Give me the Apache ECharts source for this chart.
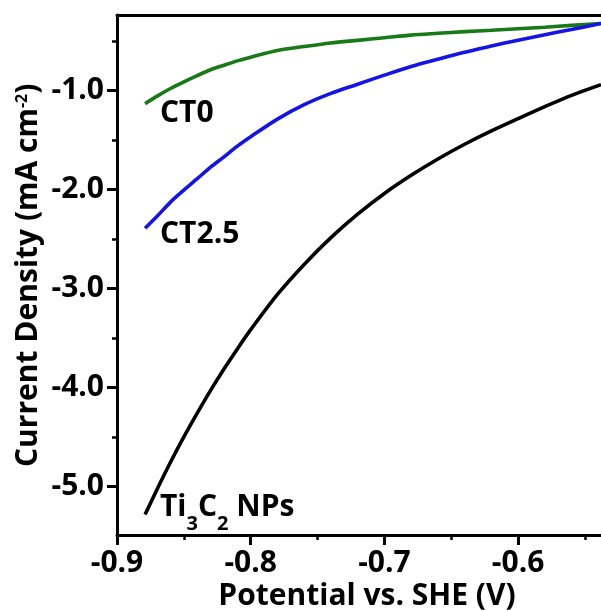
<!DOCTYPE html>
<html><head><meta charset="utf-8">
<script src="https://cdn.jsdelivr.net/npm/echarts@6/dist/echarts.min.js"></script>
<style>html,body{margin:0;padding:0;background:#fff}#c{width:601px;height:611px}</style>
</head><body><div id="c"></div>
<script>
// Potential vs. SHE (V)
const potentials = [-0.879, -0.87, -0.86, -0.85, -0.84, -0.83, -0.82, -0.81, -0.80, -0.78, -0.76, -0.74, -0.72, -0.70, -0.68, -0.66, -0.64, -0.62, -0.60, -0.58, -0.56, -0.538];
// Current density (mA cm^-2)
const ct0 = [-1.135, -1.059, -0.982, -0.915, -0.852, -0.793, -0.747, -0.703, -0.666, -0.599, -0.558, -0.522, -0.496, -0.470, -0.443, -0.425, -0.408, -0.394, -0.379, -0.363, -0.345, -0.326];
const ct25 = [-2.393, -2.272, -2.129, -2.008, -1.893, -1.776, -1.672, -1.564, -1.469, -1.291, -1.145, -1.031, -0.939, -0.847, -0.759, -0.686, -0.616, -0.554, -0.494, -0.439, -0.386, -0.326];
const ti3c2 = [-5.283, -5.028, -4.756, -4.500, -4.260, -4.030, -3.814, -3.611, -3.417, -3.061, -2.758, -2.488, -2.251, -2.042, -1.859, -1.694, -1.545, -1.410, -1.286, -1.165, -1.051, -0.943];

const xMajorTicks = [-0.9, -0.8, -0.7, -0.6];
const xMinorTicks = [-0.85, -0.75, -0.65, -0.55];
const yMajorTicks = [-5.0, -4.0, -3.0, -2.0, -1.0];
const yMinorTicks = [-4.5, -3.5, -2.5, -1.5, -0.5];

const seriesNames = ['CT0', 'CT2.5', 'Ti3C2 NPs'];
const seriesColors = ['#177a17', '#1414e6', '#000000'];

const FONT = '"Open Sans", "DejaVu Sans", sans-serif';
const FS = 30;
const X_MIN = -0.9, X_MAX = -0.538, Y_MIN = -5.49, Y_MAX = -0.24;

const mctx = document.createElement('canvas').getContext('2d');
function tw(str, size) { mctx.font = 'bold ' + size + 'px ' + FONT; return mctx.measureText(str).width; }
function txt(str, size, x, y, align, rot) {
  const el = {type: 'text', x: x, y: y, style: {text: str, font: 'bold ' + size + 'px ' + FONT, fill: '#000', align: align || 'left', verticalAlign: 'middle'}};
  if (rot) el.rotation = rot;
  return el;
}

function pairs(vals) { return potentials.map((p, i) => [p, vals[i]]); }

const labelStyle = {fontFamily: FONT, fontWeight: 'bold', fontSize: FS, color: '#000'};
function lineAxis(pos, min, max) {
  return {type: 'value', position: pos, min: min, max: max,
          axisLine: {show: true, onZero: false, lineStyle: {color: '#000', width: 3}},
          axisTick: {show: false}, axisLabel: {show: false}, splitLine: {show: false}};
}
function tickAxis(pos, min, max, ticks, len, w, labels, margin) {
  return {type: 'value', position: pos, min: min, max: max,
          axisLine: {show: false, onZero: false},
          axisTick: {show: true, length: len, lineStyle: {color: '#000', width: w}, customValues: ticks},
          axisLabel: labels ? Object.assign({show: true, margin: margin, customValues: ticks, formatter: v => v.toFixed(1)}, labelStyle) : {show: false},
          splitLine: {show: false}};
}

// in-plot labels and titles (plain text pieces, sub/superscripts placed after measured widths)
const graphics = [];
graphics.push(txt('CT0', FS, 160, 113.7));
graphics.push(txt('CT2.5', FS, 160, 234.7));
let gx = 160;
graphics.push(txt('Ti', FS, gx, 507.7)); gx += tw('Ti', FS);
graphics.push(txt('3', 20, gx, 524.6)); gx += tw('3', 20);
graphics.push(txt('C', FS, gx, 507.7)); gx += tw('C', FS);
graphics.push(txt('2', 20, gx, 524.6)); gx += tw('2', 20);
graphics.push(txt(' NPs', FS, gx, 507.7));
graphics.push(txt('Potential vs. SHE (V)', FS, 367, 596, 'center'));
let gy = 467;
const yMain = 'Current Density (mA cm';
graphics.push(txt(yMain, FS, 28.7, gy, 'left', Math.PI / 2)); gy -= tw(yMain, FS);
graphics.push(txt('-2', 16, 22.6, gy, 'left', Math.PI / 2)); gy -= tw('-2', 16);
graphics.push(txt(')', FS, 28.7, gy, 'left', Math.PI / 2));

const chart = echarts.init(document.getElementById('c'));
chart.setOption({
  animation: false,
  grid: {left: 117, top: 15, right: 0, bottom: 76},
  xAxis: [
    lineAxis('bottom', X_MIN, X_MAX),
    tickAxis('bottom', X_MIN, X_MAX, xMajorTicks, 10, 3, true, 13),
    tickAxis('bottom', X_MIN, X_MAX, xMinorTicks, 5, 2.5, false),
    lineAxis('top', X_MIN, X_MAX)
  ],
  yAxis: [
    lineAxis('left', Y_MIN, Y_MAX),
    tickAxis('left', Y_MIN, Y_MAX, yMajorTicks, 10, 3, true, 13),
    tickAxis('left', Y_MIN, Y_MAX, yMinorTicks, 5, 2.5, false)
  ],
  series: [ct0, ct25, ti3c2].map((vals, i) => ({
    name: seriesNames[i], type: 'line',
    data: pairs(vals), smooth: 0.3, showSymbol: false,
    lineStyle: {color: seriesColors[i], width: 3.6}
  })),
  graphic: graphics
});
</script>
</body></html>
